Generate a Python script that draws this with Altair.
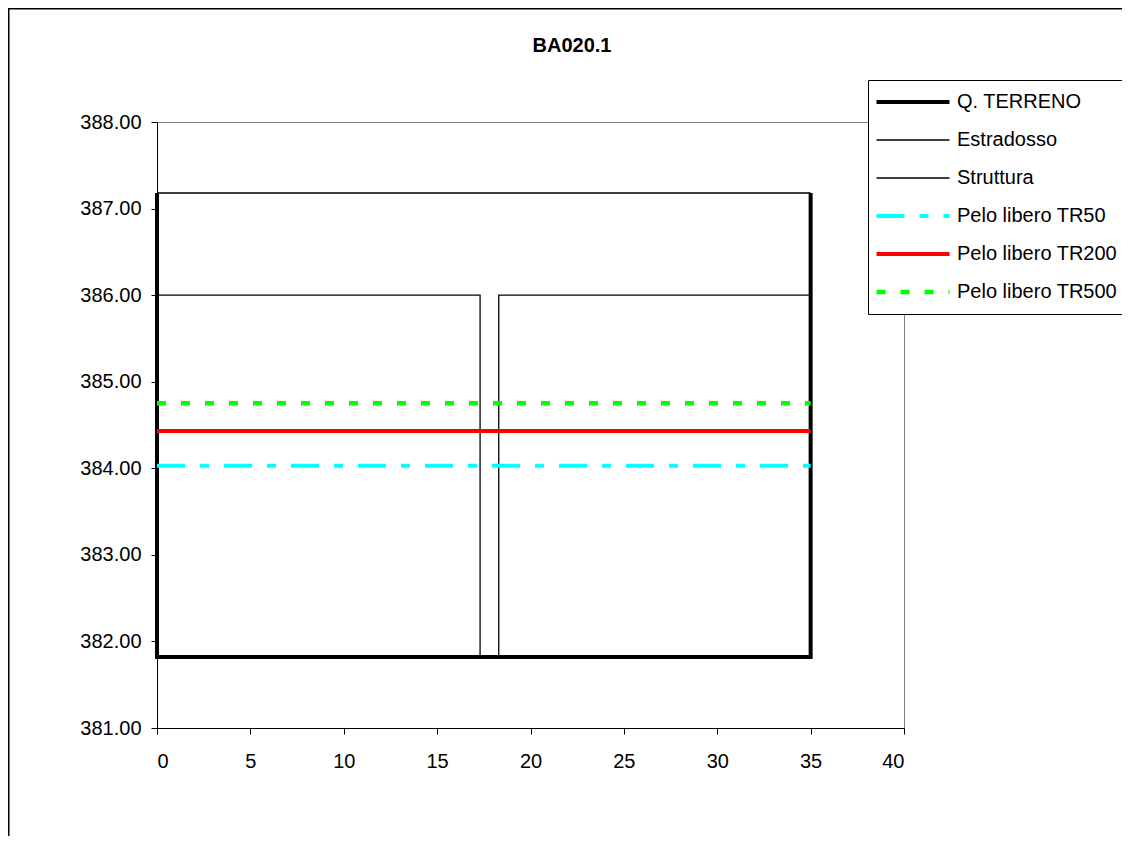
import altair as alt
import pandas as pd

FONT = "Liberation Sans"

# ---- data ----
series = ["Q. TERRENO", "Estradosso", "Struttura",
          "Pelo libero TR50", "Pelo libero TR200", "Pelo libero TR500"]
colors = ["#000000", "#000000", "#000000", "#00FFFF", "#FF0000", "#00FF00"]
widths = [4, 1.3, 1.3, 4, 4, 4.5]
dashes = [[1, 0], [1, 0], [1, 0], [28, 15, 9, 15], [1, 0], [9, 15]]

terreno_x = [0, 0, 35, 35]
terreno_y = [387.18, 381.82, 381.82, 387.18]
estradosso_x = [0, 35]
estradosso_y = [387.18, 387.18]
struttura_left_x = [0, 0, 17.3, 17.3]
struttura_left_y = [381.82, 386.00, 386.00, 381.82]
struttura_right_x = [18.3, 18.3, 35, 35]
struttura_right_y = [381.82, 386.00, 386.00, 381.82]
tr50_x = [0, 35]
tr50_y = [384.03, 384.03]
tr200_x = [0, 35]
tr200_y = [384.43, 384.43]
tr500_x = [0, 35]
tr500_y = [384.75, 384.75]

x_ticks = [0, 5, 10, 15, 20, 25, 30, 35, 40]
y_ticks = [381, 382, 383, 384, 385, 386, 387, 388]

parts = [
    ("Q. TERRENO", "t", terreno_x, terreno_y),
    ("Estradosso", "e", estradosso_x, estradosso_y),
    ("Struttura", "s1", struttura_left_x, struttura_left_y),
    ("Struttura", "s2", struttura_right_x, struttura_right_y),
    ("Pelo libero TR50", "w50", tr50_x, tr50_y),
    ("Pelo libero TR200", "w200", tr200_x, tr200_y),
    ("Pelo libero TR500", "w500", tr500_x, tr500_y),
]
width_of = dict(zip(series, widths))
rows = []
for s, p, xs, ys in parts:
    for i, (xv, yv) in enumerate(zip(xs, ys)):
        rows.append({"series": s, "part": p, "i": i, "x": xv, "y": yv, "w": width_of[s]})
df = pd.DataFrame(rows)

# legend symbol widths expression built from the lists
expr = "(" + " : ".join(f"datum.value === '{s}' ? {w}" for s, w in zip(series, widths)) + " : 1)"

W, H = 747, 606
PL, PT, PR, PB = 149, 114, 218, 108

lines = alt.Chart(df).mark_line(strokeCap="butt", strokeJoin="miter").encode(
    x=alt.X("x:Q", scale=alt.Scale(domain=[0, 40], nice=False, zero=False),
            axis=alt.Axis(values=x_ticks, title=None, grid=False, labelPadding=17)),
    y=alt.Y("y:Q", scale=alt.Scale(domain=[381, 388], nice=False, zero=False),
            axis=alt.Axis(values=y_ticks, format=".2f", title=None, grid=False, labelPadding=10)),
    color=alt.Color("series:N", scale=alt.Scale(domain=series, range=colors),
                    legend=alt.Legend(title=None, symbolStrokeWidth={"expr": expr})),
    strokeDash=alt.StrokeDash("series:N", scale=alt.Scale(domain=series, range=dashes),
                              legend=alt.Legend(title=None, symbolStrokeWidth={"expr": expr})),
    strokeWidth=alt.StrokeWidth("w:Q", scale=None, legend=None),
    detail="part:N",
    order=alt.Order("i:Q"),
)

frame = alt.Chart(pd.DataFrame({"k": [0]})).mark_rect(
    fill="transparent", stroke="black", strokeWidth=2
).encode(
    x=alt.value(-PL + 0.5), x2=alt.value(2000),
    y=alt.value(-PT + 0.5), y2=alt.value(2000),
)

chart = alt.layer(frame, lines).properties(
    width=W, height=H,
    padding={"left": PL, "top": PT, "right": PR, "bottom": PB},
    autosize=alt.AutoSizeParams(type="none"),
    title=alt.Title("BA020.1", fontSize=20, fontWeight="bold", font=FONT,
                    anchor="middle", frame="group", offset=-48, dx=41.5, color="black"),
).configure_view(
    stroke="#808080", strokeWidth=1
).configure_axis(
    labelFont=FONT, labelFontSize=20, labelColor="black",
    domainColor="black", domainWidth=1, tickColor="black", tickSize=6, tickWidth=1,
).configure_legend(
    orient="none", legendX=711, legendY=-42,
    symbolType="stroke", symbolSize=73 * 73, symbolOffset=4,
    labelFont=FONT, labelFontSize=20, labelColor="black", labelOffset=7, labelLimit=400,
    clipHeight=36, rowPadding=2, padding=4,
    strokeColor="black", fillColor="white",
)

chart.save("out.html", embed_options={"renderer": "svg", "actions": False})
